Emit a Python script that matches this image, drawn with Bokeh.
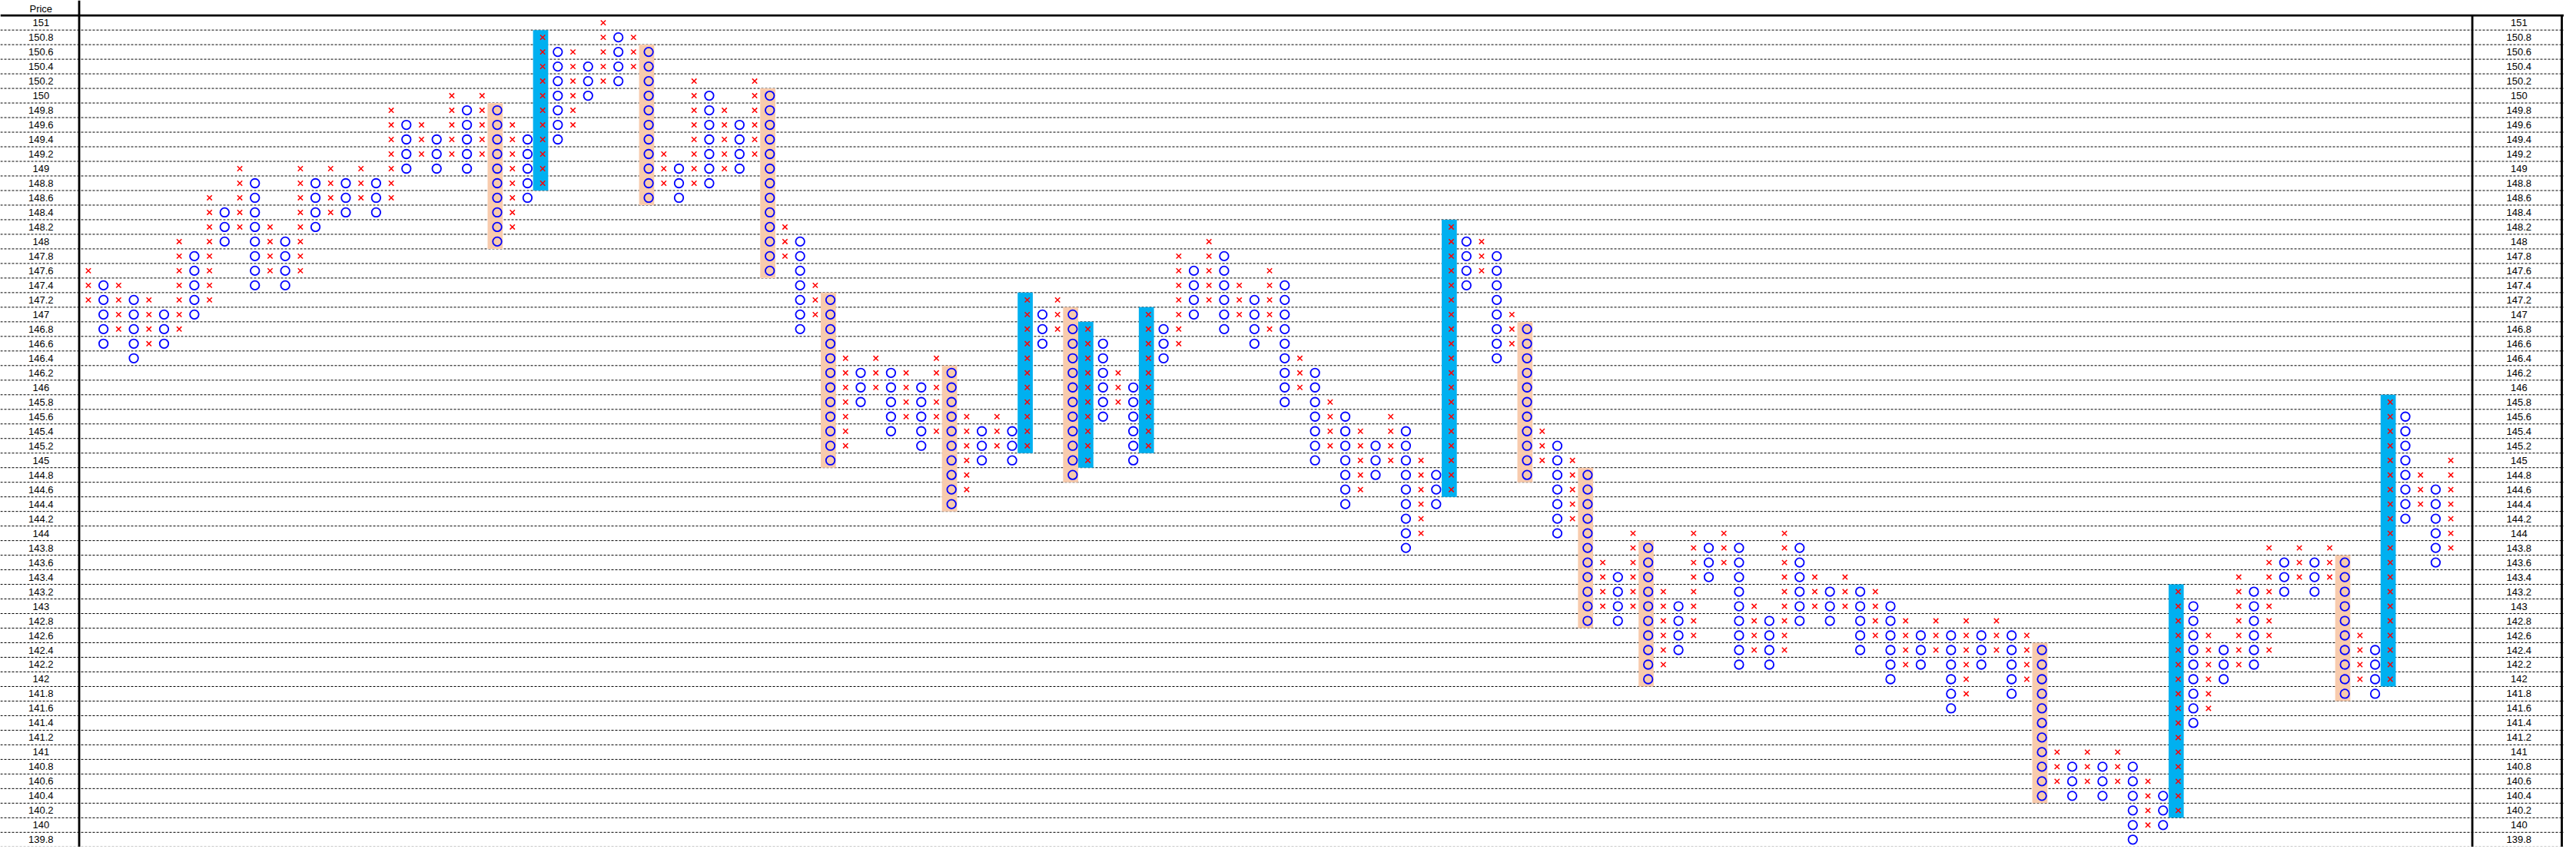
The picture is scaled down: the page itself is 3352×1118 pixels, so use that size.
from bokeh.plotting import figure
from bokeh.models import ColumnDataSource, Range1d
from bokeh.transform import dodge
from bokeh.core.properties import value
from bokeh.embed import file_html
from bokeh.resources import INLINE

# ---------------- data ----------------
BOX = 0.2
price_labels = ["151", "150.8", "150.6", "150.4", "150.2", "150", "149.8", "149.6", "149.4", "149.2",
                "149", "148.8", "148.6", "148.4", "148.2", "148", "147.8", "147.6", "147.4", "147.2",
                "147", "146.8", "146.6", "146.4", "146.2", "146", "145.8", "145.6", "145.4", "145.2",
                "145", "144.8", "144.6", "144.4", "144.2", "144", "143.8", "143.6", "143.4", "143.2",
                "143", "142.8", "142.6", "142.4", "142.2", "142", "141.8", "141.6", "141.4", "141.2",
                "141", "140.8", "140.6", "140.4", "140.2", "140", "139.8"]
header_label = "Price"
first_col_type = "X"   # columns alternate X / O

col_top = [147.6, 147.4, 147.4, 147.2, 147.2, 147.0, 148.0, 147.8, 148.6, 148.4,
           149.0, 148.8, 148.2, 148.0, 149.0, 148.8, 149.0, 148.8, 149.0, 148.8,
           149.8, 149.6, 149.6, 149.4, 150.0, 149.8, 150.0, 149.8, 149.6, 149.4,
           150.8, 150.6, 150.6, 150.4, 151.0, 150.8, 150.8, 150.6, 149.2, 149.0,
           150.2, 150.0, 149.8, 149.6, 150.2, 150.0, 148.2, 148.0, 147.4, 147.2,
           146.4, 146.2, 146.4, 146.2, 146.2, 146.0, 146.4, 146.2, 145.6, 145.4,
           145.6, 145.4, 147.2, 147.0, 147.2, 147.0, 146.8, 146.6, 146.2, 146.0,
           147.0, 146.8, 147.8, 147.6, 148.0, 147.8, 147.4, 147.2, 147.6, 147.4,
           146.4, 146.2, 145.8, 145.6, 145.4, 145.2, 145.6, 145.4, 145.0, 144.8,
           148.2, 148.0, 148.0, 147.8, 147.0, 146.8, 145.4, 145.2, 145.0, 144.8,
           143.6, 143.4, 144.0, 143.8, 143.2, 143.0, 144.0, 143.8, 144.0, 143.8,
           143.0, 142.8, 144.0, 143.8, 143.4, 143.2, 143.4, 143.2, 143.2, 143.0,
           142.8, 142.6, 142.8, 142.6, 142.8, 142.6, 142.8, 142.6, 142.6, 142.4,
           141.0, 140.8, 141.0, 140.8, 141.0, 140.8, 140.6, 140.4, 143.2, 143.0,
           142.6, 142.4, 143.4, 143.2, 143.8, 143.6, 143.8, 143.6, 143.8, 143.6,
           142.6, 142.4, 145.8, 145.6, 144.8, 144.6, 145.0]

col_bottom = [147.2, 146.6, 146.8, 146.4, 146.6, 146.6, 146.8, 147.0, 147.2, 148.0,
              148.2, 147.4, 147.6, 147.4, 147.6, 148.2, 148.4, 148.4, 148.6, 148.4,
              148.6, 149.0, 149.2, 149.0, 149.2, 149.0, 149.2, 148.0, 148.2, 148.6,
              148.8, 149.4, 149.6, 150.0, 150.2, 150.2, 150.4, 148.6, 148.8, 148.6,
              148.8, 148.8, 149.0, 149.0, 149.2, 147.6, 147.8, 146.8, 147.0, 145.0,
              145.2, 145.8, 146.0, 145.4, 145.6, 145.2, 145.4, 144.4, 144.6, 145.0,
              145.2, 145.0, 145.2, 146.6, 146.8, 144.8, 145.0, 145.6, 145.8, 145.0,
              145.2, 146.4, 146.6, 147.0, 147.2, 146.8, 147.0, 146.6, 146.8, 145.8,
              146.0, 145.0, 145.2, 144.4, 144.6, 144.8, 145.0, 143.8, 144.0, 144.4,
              144.6, 147.4, 147.6, 146.4, 146.6, 144.8, 145.0, 144.0, 144.2, 142.8,
              143.0, 142.8, 143.0, 142.0, 142.2, 142.4, 142.6, 143.4, 143.6, 142.2,
              142.4, 142.2, 142.4, 142.8, 143.0, 142.8, 143.0, 142.4, 142.6, 142.0,
              142.2, 142.2, 142.4, 141.6, 141.8, 142.2, 142.4, 141.8, 142.0, 140.4,
              140.6, 140.4, 140.6, 140.4, 140.6, 139.8, 140.0, 140.0, 140.2, 141.4,
              141.6, 142.0, 142.2, 142.2, 142.4, 143.2, 143.4, 143.2, 143.4, 141.8,
              142.0, 141.8, 142.0, 144.2, 144.4, 143.6, 143.8]

HIGHLIGHT_MIN_BOXES = 10

# ---------------- styles ----------------
X_COLOR = "#ff0000"
O_COLOR = "#0000ff"
UP_BAR = "#00b0f0"
DOWN_BAR = "#f8cbad"
FONT = "Liberation Sans"

# ---------------- build ----------------
levels = [float(s) for s in price_labels]
n = len(col_top)
cols = list(range(1, n + 1))
other = "O" if first_col_type == "X" else "X"
types = [first_col_type if i % 2 == 0 else other for i in range(n)]

xs_x, ys_x, xs_o, ys_o = [], [], [], []
bars = dict(col=[], top=[], bottom=[], color=[])
for c, t, top, bot in zip(cols, types, col_top, col_bottom):
    k = int(round((top - bot) / BOX)) + 1
    ys = [round(bot + j * BOX, 1) for j in range(k)]
    if t == "X":
        xs_x += [c] * k
        ys_x += ys
    else:
        xs_o += [c] * k
        ys_o += ys
    if k >= HIGHLIGHT_MIN_BOXES:
        bars["col"].append(c)
        bars["top"].append(top + BOX / 2)
        bars["bottom"].append(bot - BOX / 2)
        bars["color"].append(UP_BAR if t == "X" else DOWN_BAR)

W, H = 3336, 1102
X0, X1 = -4.808, 164.48
Y0, Y1 = 139.698, 151.307

p = figure(width=W, height=H, x_range=Range1d(X0, X1), y_range=Range1d(Y0, Y1),
           output_backend="svg", toolbar_location=None,
           x_axis_location=None, y_axis_location=None,
           min_border=0, outline_line_color=None,
           background_fill_color="white", border_fill_color="white")
p.grid.visible = False

# dashed row separators
sep = [lv - BOX / 2 for lv in levels]
p.segment(x0=X0, x1=X1, y0=sep, y1=sep, line_color="black", line_width=1, line_dash="3 2")

# highlight bars
p.vbar(x=dodge("col", -0.135), width=1.0, top="top", bottom="bottom",
       fill_color="color", line_color=None, source=ColumnDataSource(bars))

# frame lines
top_line = levels[0] + BOX / 2
LEFT_AX, RIGHT_AX, RIGHT_EDGE = 0.394, 158.42, 164.33
p.segment(x0=X0, x1=X1, y0=top_line, y1=top_line, line_color="black", line_width=2.6)
p.segment(x0=LEFT_AX, x1=LEFT_AX, y0=Y1, y1=Y0, line_color="black", line_width=2.8)
p.segment(x0=RIGHT_AX, x1=RIGHT_AX, y0=top_line, y1=Y0, line_color="black", line_width=2.8)
p.segment(x0=RIGHT_EDGE, x1=RIGHT_EDGE, y0=top_line, y1=Y0, line_color="black", line_width=2.8)

# markers
p.scatter(x=xs_x, y=ys_x, marker="x", size=9, line_color=X_COLOR, line_width=1.5)
p.scatter(x=xs_o, y=ys_o, marker="circle", size=11.5, fill_color=None,
          line_color=O_COLOR, line_width=1.8)

# price labels both sides
LBL_L, LBL_R = -2.13, 161.5
p.text(x=[LBL_L] * len(levels), y=levels, text=price_labels, text_align="center",
       text_baseline="middle", text_font=value(FONT), text_font_size="13px", text_color="black")
p.text(x=[LBL_R] * len(levels), y=levels, text=price_labels, text_align="center",
       text_baseline="middle", text_font=value(FONT), text_font_size="13px", text_color="black")
p.text(x=[LBL_L], y=[levels[0] + 0.93 * BOX], text=[header_label], text_align="center",
       text_baseline="middle", text_font=value(FONT), text_font_size="13px", text_color="black")

open("out.html", "w").write(file_html(p, INLINE))
